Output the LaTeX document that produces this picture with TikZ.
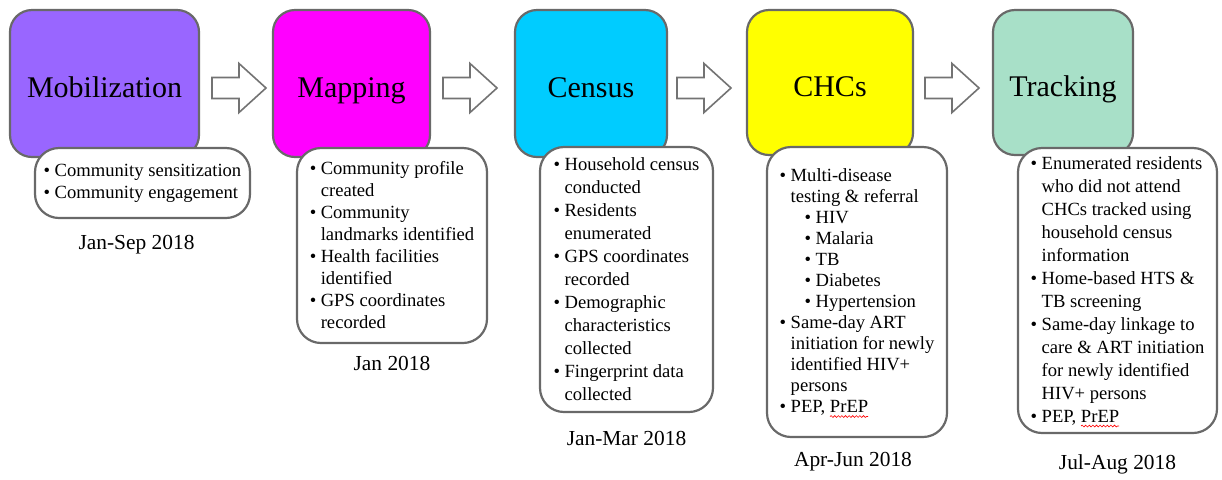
\documentclass[tikz,border=0pt]{standalone}
\usepackage{fontspec}
\setmainfont{Liberation Serif}
\usepackage{xcolor}
\usepackage{tikz}
\usetikzlibrary{positioning,decorations.pathmorphing}
\definecolor{mobpurple}{RGB}{153,102,255}
\definecolor{mapmagenta}{RGB}{255,0,255}
\definecolor{cencyan}{RGB}{0,204,255}
\definecolor{chcyellow}{RGB}{255,255,0}
\definecolor{trkmint}{RGB}{168,224,200}
\definecolor{boxgray}{RGB}{105,105,105}
\definecolor{arrowgray}{RGB}{115,115,115}
\newcommand{\bitem}{\makebox[5.5pt][l]{\textbullet}}
\newcommand{\bcont}{\hspace*{5.5pt}}
\newcommand{\bsub}{\hspace*{12.5pt}\bitem}
\newcommand{\redwave}[1]{\tikz[baseline=(w.base), x=1pt, y=1pt]{\node[inner sep=0pt, outer sep=0pt, minimum width=0pt, minimum height=0pt, draw=none, fill=none, sharp corners] (w) {#1};
	\draw[red, line width=0.3pt, overlay, sharp corners, decorate, decoration={snake, amplitude=0.45pt, segment length=1.8pt}] ([yshift=-2pt]w.base west) -- ([yshift=-2pt]w.base east);}}

\begin{document}
\begin{tikzpicture}[x=0.5pt, y=-0.5pt,
	stage/.style={draw=boxgray, line width=1.1pt, rounded corners=11pt, text height=17pt, text depth=3.5pt, font=\fontsize{15}{18}\selectfont},
	detail/.style={draw=boxgray, line width=1.1pt, fill=white, rounded corners=12pt, align=left, inner sep=2pt, font=\fontsize{9.3}{#1}\selectfont},
	detail/.default=11pt,
	period/.style={font=\fontsize{10.7}{12}\selectfont, inner sep=0pt},
	blk/.style={draw=arrowgray, line width=0.8pt, fill=white, line join=miter}]
 \useasboundingbox (0,0) rectangle (1222,479);

 \node[stage, fill=mobpurple, minimum width=94.5pt, minimum height=73.5pt] (mob) at (104.5,83.5) {Mobilization};
 \node[stage, fill=mapmagenta, minimum width=78.5pt, minimum height=73.5pt] (map) at (351.5,83.5) {Mapping};
 \node[stage, fill=cencyan, minimum width=76pt, minimum height=73.5pt] (cen) at (591,83.5) {Census};
 \node[stage, fill=chcyellow, minimum width=83pt, minimum height=72.5pt] (chc) at (830,82.5) {CHCs};
 \node[stage, fill=trkmint, minimum width=70pt, minimum height=72.5pt] (trk) at (1063,82.5) {Tracking};

 \foreach \x [count=\i] in {212,443,677,925}
 	\draw[blk] (\x,88) coordinate (a\i) ++(0,-10.5) -- ++(27,0) -- ++(0,-14) -- ++(27,24.5) -- ++(-27,24.5) -- ++(0,-14) -- ++(-27,0) -- cycle;

 \node[detail, minimum width=107.5pt, minimum height=35pt] (mobd) at (142.5,183)
 	{\bitem Community sensitization\\
 	 \bitem Community engagement};
 \node[detail, minimum width=95pt, minimum height=97.5pt] (mapd) at (392,245.5)
 	{\bitem Community profile\\ \bcont created\\
 	 \bitem Community\\ \bcont landmarks identified\\
 	 \bitem Health facilities\\ \bcont identified\\
 	 \bitem GPS coordinates\\ \bcont recorded};
 \node[detail=11.5pt, minimum width=86.5pt, minimum height=132.5pt] (cend) at (626.5,279.5)
 	{\bitem Household census\\ \bcont conducted\\
 	 \bitem Residents\\ \bcont enumerated\\
 	 \bitem GPS coordinates\\ \bcont recorded\\
 	 \bitem Demographic\\ \bcont characteristics\\ \bcont collected\\
 	 \bitem Fingerprint data\\ \bcont collected};
 \node[detail=10.5pt, minimum width=90pt, minimum height=145pt] (chcd) at (857,292)
 	{\bitem Multi-disease\\ \bcont testing \& referral\\
 	 \bsub HIV\\ \bsub Malaria\\ \bsub TB\\ \bsub Diabetes\\ \bsub Hypertension\\
 	 \bitem Same-day ART\\ \bcont initiation for newly\\ \bcont identified HIV+\\ \bcont persons\\
 	 \bitem PEP, \redwave{PrEP}};
 \node[detail=11.5pt, minimum width=99.5pt, minimum height=142.5pt] (trkd) at (1117.5,290.5)
 	{\bitem Enumerated residents\\ \bcont who did not attend\\ \bcont CHCs tracked using\\ \bcont household census\\ \bcont information\\
 	 \bitem Home-based HTS \&\\ \bcont TB screening\\
 	 \bitem Same-day linkage to\\ \bcont care \& ART initiation\\ \bcont for newly identified\\ \bcont HIV+ persons\\
 	 \bitem PEP, \redwave{PrEP}};

 \node[period, below=8pt of mobd, xshift=-3pt] (mobt) {Jan-Sep 2018};
 \node[period, below=6pt of mapd] (mapt) {Jan 2018};
 \node[period, below=9pt of cend] (cent) {Jan-Mar 2018};
 \node[period, below=7pt of chcd, xshift=-2pt] (chct) {Apr-Jun 2018};
 \node[period, below=10pt of trkd] (trkt) {Jul-Aug 2018};
\end{tikzpicture}
\end{document}
